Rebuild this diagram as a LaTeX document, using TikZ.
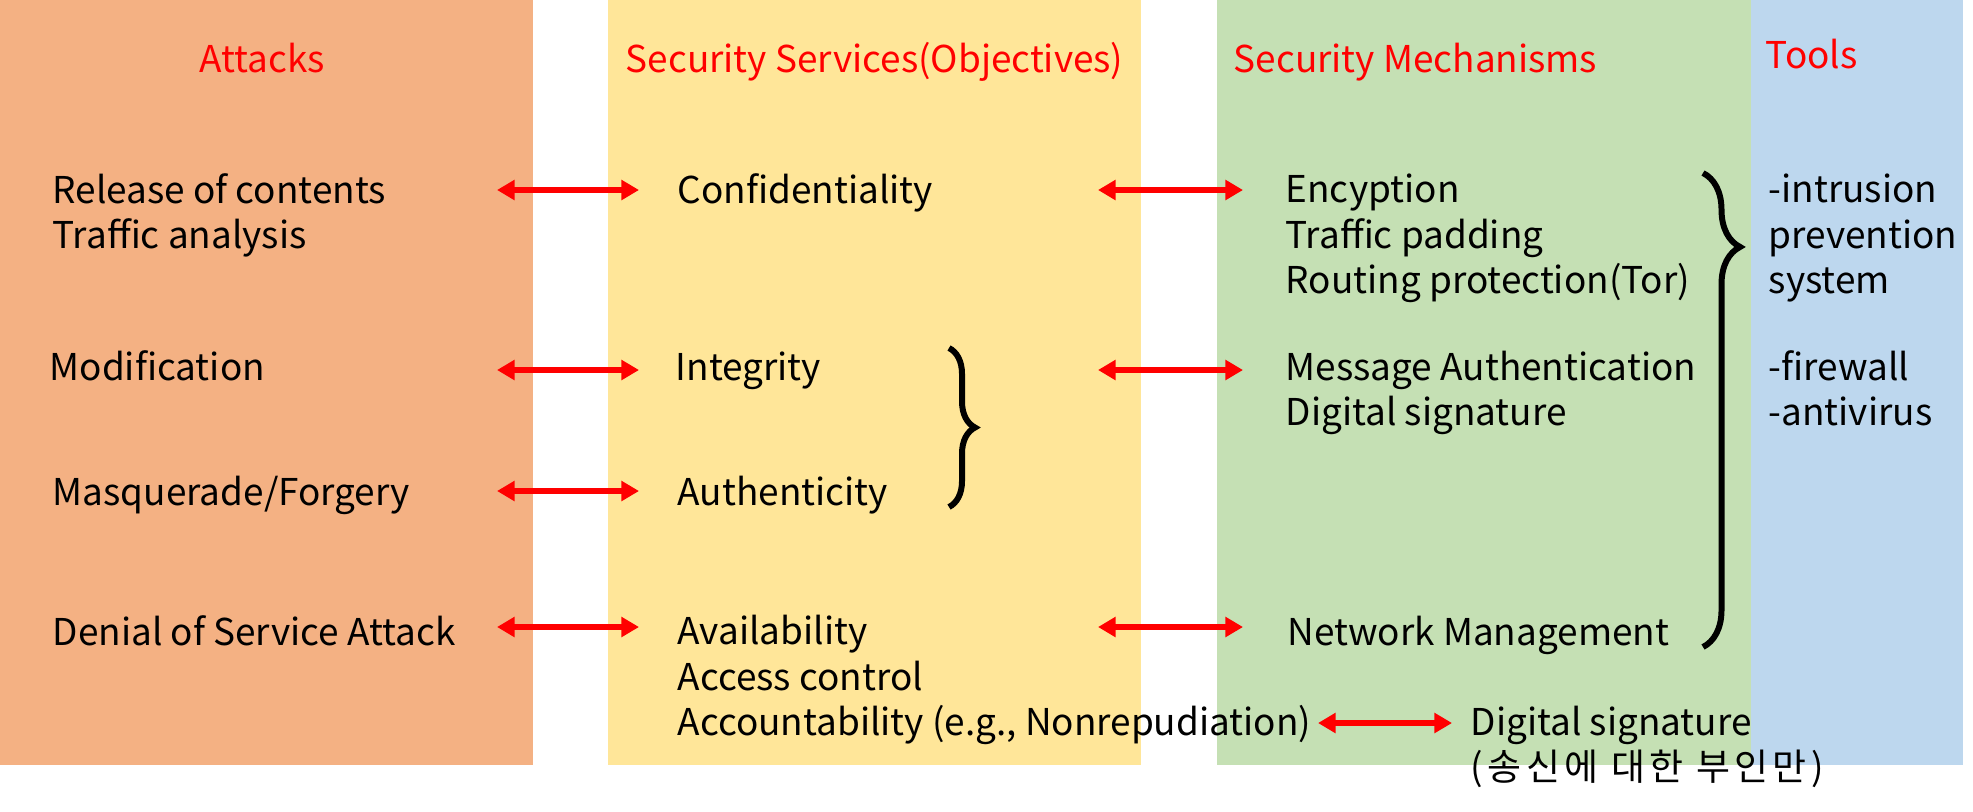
\documentclass[tikz,border=0pt]{standalone}
\usepackage{fontspec}
\setmainfont{Noto Sans CJK KR}
\usetikzlibrary{arrows.meta, decorations.pathreplacing}

\begin{document}
\begin{tikzpicture}[x=0.01cm, y=-0.01cm,
    every node/.style={inner sep=0pt, anchor=base west, align=left, font=\fontsize{10.5}{12.8}\selectfont},
    titulo/.style={text=rojoT},
    flecha/.style={{Triangle[length=5pt,width=5.5pt]}-{Triangle[length=5pt,width=5.5pt]}, line width=1.7pt, draw=rojoT},
    llave/.style={decorate, decoration={brace, amplitude=#1}, line width=1.7pt}]

    % Definimos colores
    \definecolor{naranjaA}{RGB}{244,177,131}  % Attacks
    \definecolor{amarilloS}{RGB}{255,230,153} % Services
    \definecolor{verdeM}{RGB}{197,224,180}    % Mechanisms
    \definecolor{azulT}{RGB}{189,215,238}     % Tools
    \definecolor{rojoT}{RGB}{255,0,0}         % Titulos y flechas

    \useasboundingbox (0,0) rectangle (1973,811);

    % Columnas de fondo
    \fill[naranjaA] (0,0) rectangle (533,765);
    \fill[amarilloS] (608,0) rectangle (1141,765);
    \fill[verdeM] (1217,0) rectangle (1751,765);
    \fill[azulT] (1751,0) rectangle (1963,765);

    % Titulos
    \node[titulo, anchor=base] (tAtaques) at (262,72) {Attacks};
    \node[titulo] (tServicios) at (625,72) {Security Services(Objectives)};
    \node[titulo] (tMecanismos) at (1233,72) {Security Mechanisms};
    \node[titulo] (tHerramientas) at (1765,68) {Tools};

    % Ataques (base = ultima linea)
    \node (ata1) at (52,248) {Release of contents\\Traffic analysis};
    \node (ata2) at (49,380) {Modification};
    \node (ata3) at (52,505) {Masquerade/Forgery};
    \node (ata4) at (52,645) {Denial of Service Attack};

    % Servicios
    \node (ser1) at (677,203) {Confidentiality};
    \node (ser2) at (675,380) {Integrity};
    \node (ser3) at (677,505) {Authenticity};
    \node (ser4) at (677,735) {Availability\\Access control\\Accountability (e.g., Nonrepudiation)};

    % Mecanismos
    \node (mec1) at (1285,293) {Encyption\\Traffic padding\\Routing protection(Tor)};
    \node (mec2) at (1285,425) {Message Authentication\\Digital signature};
    \node (mec3) at (1287,645) {Network Management};
    \node (mec4) at (1470,780) {Digital signature\\{\addfontfeatures{LetterSpace=12}(송신에 대한 부인만)}};

    % Herramientas
    \node (her1) at (1768,293) {-intrusion\\prevention\\system};
    \node (her2) at (1768,425) {-firewall\\-antivirus};

    % Flechas ataques - servicios
    \foreach \y/\n in {190/1, 370/2, 491/3, 627/4} {
        \coordinate (fa\n) at (497,\y);
        \coordinate (fb\n) at (639,\y);
        \draw[flecha] (fa\n) -- (fb\n);
    }

    % Flechas servicios - mecanismos
    \foreach \y/\n in {190/1, 370/2, 627/4} {
        \coordinate (fc\n) at (1098,\y);
        \coordinate (fd\n) at (1243,\y);
        \draw[flecha] (fc\n) -- (fd\n);
    }
    \coordinate (fe) at (1318,723);
    \coordinate (ff) at (1452,723);
    \draw[flecha] (fe) -- (ff);   % Accountability -> Digital signature

    % Llaves
    \coordinate (l1a) at (949,348);
    \coordinate (l1b) at (949,507);
    \draw[llave={0.26cm}] (l1a) -- (l1b);   % Integrity + Authenticity
    \coordinate (l2a) at (1703,173);
    \coordinate (l2b) at (1703,647);
    \draw[llave={0.37cm}, decoration={aspect=0.156}] (l2a) -- (l2b);   % mecanismos -> tools

\end{tikzpicture}
\end{document}
